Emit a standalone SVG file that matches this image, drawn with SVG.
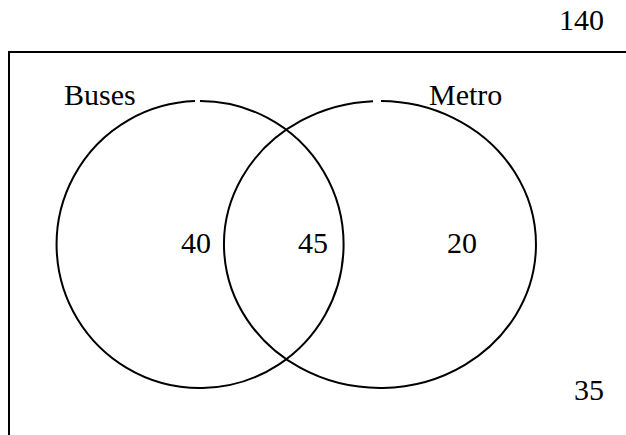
<svg xmlns="http://www.w3.org/2000/svg" width="626" height="435" viewBox="0 0 626 435">
<style>
.t{font-family:"Liberation Serif","Times New Roman",serif;font-size:30px;fill:#000}
.c{fill:none;stroke:#000;stroke-width:2}
</style>
<rect width="626" height="435" fill="#fff"/>
<g id="universe">
<rect x="9" y="52" width="700" height="500" class="c"/>
<text class="t" x="559" y="30">140</text>
<text class="t" x="574" y="400">35</text>
</g>
<g id="buses">
<path class="c" d="M200,101 A143.5,143.5 0 1 1 195,101.09"/>
<text class="t" x="64" y="105">Buses</text>
<text class="t" x="181" y="253">40</text>
</g>
<g id="metro">
<path class="c" d="M381,101 A156,143.5 0 1 1 373,101.14"/>
<text class="t" x="429" y="105">Metro</text>
<text class="t" x="447" y="253">20</text>
</g>
<g id="intersection">
<text class="t" x="298" y="253">45</text>
</g>
</svg>
